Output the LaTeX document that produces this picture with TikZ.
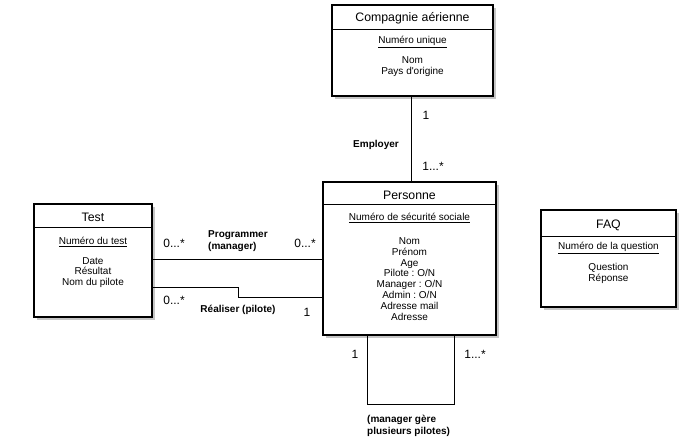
\documentclass[tikz,border=0pt]{standalone}
\usepackage{fontspec}
\setmainfont{Liberation Sans}
\usetikzlibrary{shadows,calc}
\begin{document}
\frenchspacing
\begin{tikzpicture}[x=1pt,y=-1pt,
  entity/.style={draw, line width=1.1pt, fill=white, inner sep=0pt,
    drop shadow={shadow xshift=2.5pt, shadow yshift=-3pt, opacity=0.45, fill=gray}},
  ttl/.style={font=\fontsize{12.3}{14}\selectfont, inner sep=0pt},
  keyattr/.style={font=\fontsize{10}{12}\selectfont, inner sep=0pt},
  attrs/.style={font=\fontsize{10}{10.8}\selectfont, align=center, inner sep=0pt},
  rel/.style={font=\bfseries\fontsize{10}{12.5}\selectfont, inner sep=0pt},
  mult/.style={font=\fontsize{12}{14}\selectfont, inner sep=0pt},
  conn/.style={line width=0.9pt}]
\useasboundingbox (0,0) rectangle (688,443);

% Entities
\node[entity, minimum width=161pt, minimum height=91pt] (comp) at (412.5,50.5) {};
\node[entity, minimum width=173pt, minimum height=153pt] (pers) at (409.5,258.5) {};
\node[entity, minimum width=118pt, minimum height=113pt] (test) at (93,260.5) {};
\node[entity, minimum width=135pt, minimum height=97pt] (faq) at (608.5,258.5) {};

% Header separators
\draw[line width=1pt] (comp.west |- 0,30) -- (comp.east |- 0,30);
\draw[line width=1pt] (pers.west |- 0,205) -- (pers.east |- 0,205);
\draw[line width=1pt] (test.west |- 0,228) -- (test.east |- 0,228);
\draw[line width=1pt] (faq.west |- 0,237) -- (faq.east |- 0,237);

% Compagnie
\node[ttl] (compt) at (412.5,18) {Compagnie aérienne};
\node[keyattr] (compk) at (412.5,42) {\underline{Numéro unique}};
\node[attrs] (compa) at (412.5,67) {Nom\\Pays d\textquotesingle origine};

% Personne
\node[ttl] (perst) at (409.5,195) {Personne};
\node[keyattr] (persk) at (409.5,218) {\underline{Numéro de sécurité sociale}};
\node[attrs] (persa) at (409.5,279) {Nom\\Prénom\\Age\\Pilote : O/N\\Manager : O/N\\Admin : O/N\\Adresse mail\\Adresse};

% Test
\node[ttl] (testt) at (93,217) {Test};
\node[keyattr] (testk) at (93,242) {\underline{Numéro du test}};
\node[attrs] (testa) at (93,272.5) {Date\\Résultat\\Nom du pilote};

% FAQ
\node[ttl] (faqt) at (608.5,225) {FAQ};
\node[keyattr] (faqk) at (608.5,248) {\underline{Numéro de la question}};
\node[attrs] (faqa) at (608.5,273.5) {Question\\Réponse};

% Employer
\draw[conn] (comp.south -| 411,0) -- (pers.north -| 411,0);
\node[rel] (empl) at (376,145) {Employer};
\node[mult] (m1) at (426,115) {1};
\node[mult] (m2) at (433,166) {1...*};

% Programmer
\draw[conn] (test.east |- 0,259) -- (pers.west |- 0,259);
\node[rel, align=left, anchor=west] (prog) at (208,241) {Programmer\\(manager)};
\node[mult] (m3) at (174,243) {0...*};
\node[mult] (m4) at (305,243) {0...*};

% Realiser
\draw[conn] (test.east |- 0,287) -| (238,297) -- (pers.west |- 0,297);
\node[rel] (real) at (238,310) {Réaliser (pilote)};
\node[mult] (m5) at (174,300) {0...*};
\node[mult] (m6) at (307,312) {1};

% Self loop
\draw[conn] (pers.south -| 367,0) -- (367,404) -- (454,404) -- (pers.south -| 454,0);
\node[mult] (m7) at (355,354) {1};
\node[mult] (m8) at (475,354) {1...*};
\node[rel, align=left, anchor=west] (mgr) at (367,426) {(manager gère\\plusieurs pilotes)};
\end{tikzpicture}
\end{document}
